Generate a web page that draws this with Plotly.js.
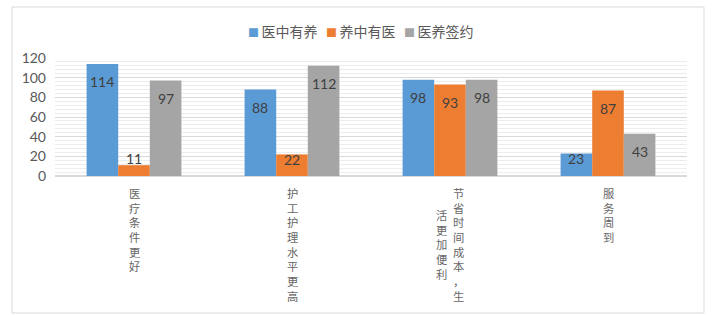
<!DOCTYPE html>
<html>
<head>
<meta charset="utf-8">
<script src="https://cdn.plot.ly/plotly-3.0.1.min.js"></script>
<style>html,body{margin:0;padding:0;background:#fff;}#chart{width:723px;height:315px;}</style>
</head>
<body>
<div id="chart"></div>
<script>
const categories = ["医疗条件更好", "护工护理水平更高", "节省时间成本，生活更加便利", "服务周到"];
const seriesNames = ["医中有养", "养中有医", "医养签约"];
const seriesA = [114, 88, 98, 23];
const seriesB = [11, 22, 93, 87];
const seriesC = [97, 112, 98, 43];
const yTicks = [0, 20, 40, 60, 80, 100, 120];

const colors = ["#5b9bd5", "#ed7d31", "#a5a5a5"];
const allSeries = [seriesA, seriesB, seriesC];
const FONT = 'Lato, "Noto Sans CJK SC", sans-serif';
const CJK = '"Noto Sans CJK SC", sans-serif';

const plotW = 632, plotH = 118, yMax = 120, pxPerUnit = plotH / yMax;
const groupPx = plotW / categories.length, barPx = groupPx * 0.6 / 3;

const traces = allSeries.map((vals, i) => ({
  type: 'bar', name: seriesNames[i], x: categories, y: vals,
  marker: {color: colors[i]}, hoverinfo: 'skip', showlegend: false
}));

const annotations = [];
// legend (drawn as text items)
seriesNames.forEach((name, i) => {
  annotations.push({
    xref: 'paper', yref: 'paper', x: (246 - 55) / plotW + i * 78 / plotW, y: 1.229,
    xanchor: 'left', yanchor: 'middle', showarrow: false,
    text: '<span style="color:' + colors[i] + ';font-size:11px">■ </span>' + name,
    font: {family: CJK, size: 14, color: '#595959'}
  });
});
// data labels
allSeries.forEach((vals, i) => {
  vals.forEach((v, k) => {
    annotations.push({
      x: categories[k], y: v, xref: 'x', yref: 'y', text: String(v),
      showarrow: false, xanchor: 'center', yanchor: 'middle',
      xshift: (i - 1) * barPx, yshift: Math.max(-18, 17 - v * pxPerUnit),
      font: {family: FONT, size: 14, color: '#404040'}
    });
  });
});
// stacked vertical category labels
const maxPerCol = 8, lineFont = 11.3, lineStep = lineFont * 1.3, colStep = 17;
categories.forEach((cat) => {
  const chars = Array.from(cat);
  const cols = [];
  for (let s = 0; s < chars.length; s += maxPerCol) cols.push(chars.slice(s, s + maxPerCol));
  const longest = Math.max(...cols.map(c => c.length));
  cols.forEach((col, j) => {
    annotations.push({
      x: cat, y: 0, xref: 'x', yref: 'paper', text: col.join('<br>'), showarrow: false,
      xanchor: 'center', yanchor: 'middle', align: 'center',
      xshift: ((cols.length - 1) / 2 - j) * colStep,
      yshift: -(17 + (longest - 1) / 2 * lineStep),
      font: {family: CJK, size: lineFont, color: '#666666'}
    });
  });
});

const layout = {
  width: 723, height: 315,
  margin: {l: 55, r: 36, t: 58, b: 139},
  paper_bgcolor: '#ffffff', plot_bgcolor: '#ffffff',
  font: {family: FONT, color: '#595959', size: 14},
  barmode: 'group', bargap: 0.4, bargroupgap: 0,
  showlegend: false,
  xaxis: {type: 'category', showticklabels: false, ticks: '', showgrid: false,
          showline: false, zeroline: false, fixedrange: true},
  yaxis: {range: [0, yMax], tickvals: yTicks, ticktext: yTicks.map(String),
          showgrid: true, gridcolor: '#d9d9d9', gridwidth: 1,
          minor: {dtick: 4, showgrid: true, gridcolor: '#ededed', gridwidth: 1},
          zeroline: true, zerolinecolor: '#d9d9d9', zerolinewidth: 1.5,
          showline: false, ticks: '', ticklabelstandoff: 8,
          tickfont: {family: FONT, size: 14, color: '#595959'}, fixedrange: true},
  shapes: [{type: 'rect', xref: 'paper', yref: 'paper',
            x0: (12 - 55) / plotW, x1: (704 - 55) / plotW,
            y0: (176 - 313) / plotH, y1: (176 - 7) / plotH,
            line: {color: '#d9d9d9', width: 1}, fillcolor: 'rgba(0,0,0,0)', layer: 'below'}],
  annotations: annotations
};

Plotly.newPlot('chart', traces, layout, {staticPlot: true, displayModeBar: false});
</script>
</body>
</html>
